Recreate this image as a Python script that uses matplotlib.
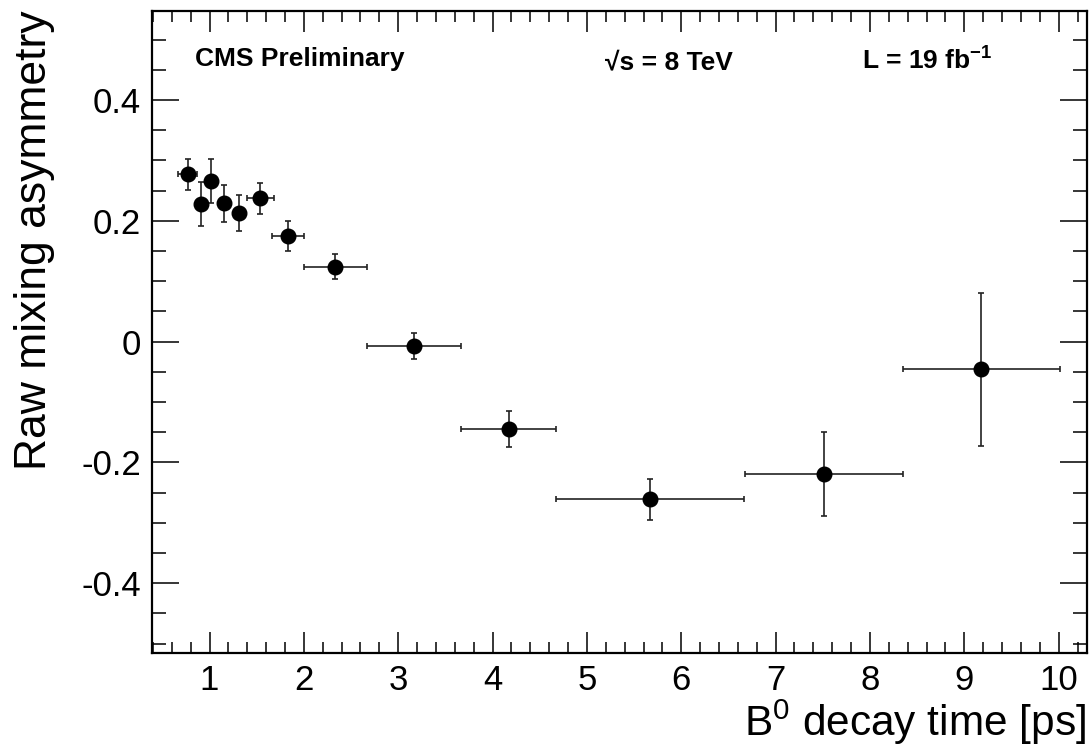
import matplotlib
matplotlib.use("Agg")
import matplotlib.pyplot as plt
from matplotlib.ticker import MultipleLocator, FuncFormatter

plt.rcParams['font.family'] = ['Liberation Sans', 'DejaVu Sans']
plt.rcParams['mathtext.fontset'] = 'custom'
plt.rcParams['mathtext.rm'] = 'Liberation Sans'
plt.rcParams['mathtext.bf'] = 'Liberation Sans:bold'

# decay time bins (ps) and raw mixing asymmetry
t = [0.77, 0.91, 1.015, 1.15, 1.315, 1.54, 1.83, 2.335, 3.17, 4.17, 5.67, 7.51, 9.18]
t_err = [0.10, 0.05, 0.05, 0.05, 0.05, 0.14, 0.17, 0.335, 0.50, 0.50, 1.0, 0.835, 0.835]
asym = [0.277, 0.228, 0.266, 0.229, 0.213, 0.237, 0.175, 0.124, -0.007, -0.145, -0.261, -0.219, -0.046]
asym_err = [0.026, 0.036, 0.036, 0.031, 0.030, 0.026, 0.025, 0.021, 0.022, 0.030, 0.034, 0.069, 0.127]

fig = plt.figure(figsize=(10.91, 7.46), dpi=100)
ax = fig.add_axes([0.1393, 0.1251, 0.857, 0.8606])

ax.errorbar(t, asym, xerr=t_err, yerr=asym_err, fmt='o', color='black',
            ms=10.5, elinewidth=1.2, ecolor='#222222', capsize=2.2, capthick=1.2)

ax.set_xlim(0.39, 10.3)
ax.set_ylim(-0.515, 0.548)

ax.xaxis.set_major_locator(MultipleLocator(1))
ax.xaxis.set_minor_locator(MultipleLocator(0.2))
ax.yaxis.set_major_locator(MultipleLocator(0.2))
ax.yaxis.set_minor_locator(MultipleLocator(0.05))
ax.yaxis.set_major_formatter(FuncFormatter(lambda v, p: '0' if abs(v) < 1e-9 else f'{v:.1f}'))

for s in ax.spines.values():
    s.set_linewidth(1.6)

ax.tick_params(axis='both', which='both', direction='in', top=True, right=True,
               width=1.1, labelsize=25, pad=8)
ax.tick_params(axis='x', which='major', length=15)
ax.tick_params(axis='x', which='minor', length=8)
ax.tick_params(axis='y', which='major', length=19.5)
ax.tick_params(axis='y', which='minor', length=10)

fig.text(0.032, 0.986, 'Raw mixing asymmetry', rotation=90, ha='center', va='top', fontsize=32)
fig.text(0.995, 0.0135, r'B$^{0}$ decay time [ps]', ha='right', va='baseline', fontsize=30.5)

fig.text(195 / 1091, 1 - 66 / 746, 'CMS Preliminary', fontsize=19, fontweight='bold',
         ha='left', va='baseline')
fig.text(605 / 1091, 1 - 69 / 746, '√s = 8 TeV', fontsize=19, fontweight='bold',
         ha='left', va='baseline')
fig.text(862 / 1091, 1 - 69 / 746, r'L = 19 fb$^{\mathbf{-1}}$', fontsize=19, fontweight='bold',
         ha='left', va='baseline')

fig.savefig('out.png', dpi=100)
